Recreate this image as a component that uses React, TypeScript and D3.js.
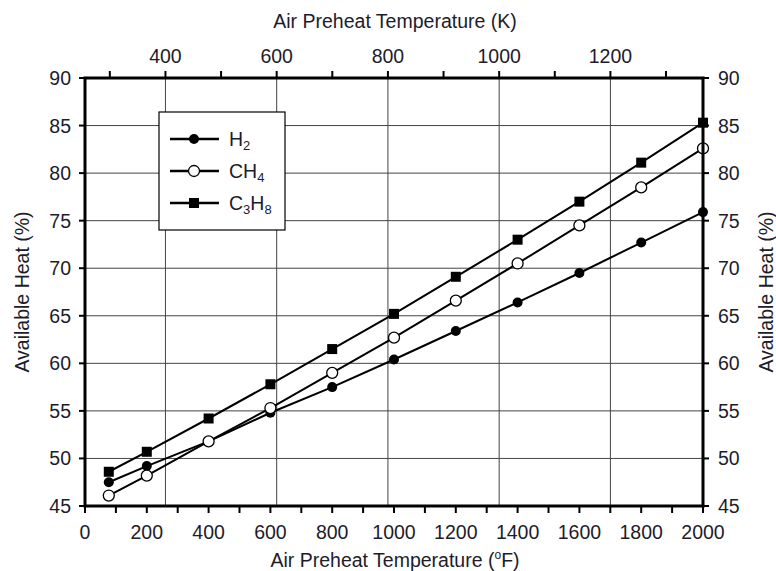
import React from "react";
import * as d3 from "d3";

const tempF = [77, 200, 400, 600, 800, 1000, 1200, 1400, 1600, 1800, 2000];
const h2 = [47.5, 49.2, 51.8, 54.8, 57.5, 60.4, 63.4, 66.4, 69.5, 72.7, 75.9];
const ch4 = [46.1, 48.2, 51.8, 55.3, 59.0, 62.7, 66.6, 70.5, 74.5, 78.5, 82.6];
const c3h8 = [48.6, 50.7, 54.2, 57.8, 61.5, 65.2, 69.1, 73.0, 77.0, 81.1, 85.3];
const bottomTicks = d3.range(0, 2001, 100);
const bottomLabels = d3.range(0, 2001, 200);
const topTicksK = d3.range(300, 1401, 100);
const topLabelsK = [400, 600, 800, 1000, 1200];
const yTicks = d3.range(45, 91, 5);

const W = 776, H = 571;
const L = 85, R = 703, T = 78, B = 506;

export default function App() {
  const x = d3.scaleLinear().domain([0, 2000]).range([L, R]);
  const y = d3.scaleLinear().domain([45, 90]).range([B, T]);
  const kToF = (k: number) => (k - 273.15) * 9 / 5 + 32;
  const line = d3.line<number>().x((_, i) => x(tempF[i])).y((d) => y(d));
  const ink = "#1c1c2a";
  const font = "'Liberation Sans', Arial, sans-serif";
  const fs = 19.5;

  const series = [
    { name: "H2", vals: h2, type: "fcircle" },
    { name: "CH4", vals: ch4, type: "ocircle" },
    { name: "C3H8", vals: c3h8, type: "square" },
  ];

  const marker = (type: string, cx: number, cy: number, key: any) => {
    if (type === "fcircle") return <circle key={key} cx={cx} cy={cy} r={5} fill="#000" />;
    if (type === "ocircle") return <circle key={key} cx={cx} cy={cy} r={5.5} fill="#fff" stroke="#000" strokeWidth={1.3} />;
    return <rect key={key} x={cx - 5} y={cy - 5} width={10} height={10} fill="#000" />;
  };

  const xLim = (v: number) => v >= 0 && v <= 2000;

  return (
    <svg width={W} height={H} style={{ position: "absolute", left: 0, top: 0, background: "#fff" }} fontFamily={font}>
      {yTicks.filter((t) => t !== 45 && t !== 90).map((t) => (
        <line key={"gy" + t} x1={L} x2={R} y1={y(t)} y2={y(t)} stroke="#444" strokeWidth={1} />
      ))}
      {topLabelsK.map((k) => (
        <line key={"gx" + k} x1={x(kToF(k))} x2={x(kToF(k))} y1={T} y2={B} stroke="#444" strokeWidth={1} />
      ))}
      {series.map((s) => (
        <path key={s.name} d={line(s.vals) || ""} fill="none" stroke="#000" strokeWidth={2} />
      ))}
      {series.map((s) => s.vals.map((v, i) => marker(s.type, x(tempF[i]), y(v), s.name + i)))}
      <rect x={159} y={112} width={126} height={118} fill="#fff" stroke="#000" strokeWidth={1.2} />
      {series.map((s, i) => {
        const ly = 139 + i * 32;
        return (
          <g key={"lg" + s.name}>
            <line x1={170} x2={219} y1={ly} y2={ly} stroke="#000" strokeWidth={2.5} />
            {marker(s.type, 194, ly, "lm" + i)}
          </g>
        );
      })}
      <text x={229} y={146} fontSize={fs} fill={ink}>H<tspan fontSize={13} dy={4}>2</tspan></text>
      <text x={229} y={178} fontSize={fs} fill={ink}>CH<tspan fontSize={13} dy={4}>4</tspan></text>
      <text x={229} y={210} fontSize={fs} fill={ink}>C<tspan fontSize={13} dy={4}>3</tspan><tspan dy={-4}>H</tspan><tspan fontSize={13} dy={4}>8</tspan></text>
      <rect x={L} y={T} width={R - L} height={B - T} fill="none" stroke="#000" strokeWidth={3} />
      {bottomTicks.map((t) => (
        <line key={"bt" + t} x1={x(t)} x2={x(t)} y1={B} y2={B + 7} stroke="#000" strokeWidth={2} />
      ))}
      {bottomLabels.map((t) => (
        <text key={"bl" + t} x={x(t)} y={539} fontSize={fs} textAnchor="middle" fill={ink}>{t}</text>
      ))}
      {topTicksK.filter((k) => xLim(kToF(k))).map((k) => (
        <line key={"tt" + k} x1={x(kToF(k))} x2={x(kToF(k))} y1={T} y2={T - 7} stroke="#000" strokeWidth={2} />
      ))}
      {topLabelsK.map((k) => (
        <text key={"tl" + k} x={x(kToF(k))} y={63} fontSize={fs} textAnchor="middle" fill={ink}>{k}</text>
      ))}
      {yTicks.map((t) => (
        <g key={"yt" + t}>
          <line x1={L - 6} x2={L} y1={y(t)} y2={y(t)} stroke="#000" strokeWidth={2} />
          <line x1={R} x2={R + 6} y1={y(t)} y2={y(t)} stroke="#000" strokeWidth={2} />
          <text x={71} y={y(t) + 7} fontSize={fs} textAnchor="end" fill={ink}>{t}</text>
          <text x={718} y={y(t) + 7} fontSize={fs} textAnchor="start" fill={ink}>{t}</text>
        </g>
      ))}
      <text x={395} y={567} fontSize={fs} textAnchor="middle" fill={ink}>Air Preheat Temperature (<tspan fontSize={12} dy={-8}>o</tspan><tspan dy={8}>F)</tspan></text>
      <text x={395} y={28} fontSize={fs} textAnchor="middle" fill={ink}>Air Preheat Temperature (K)</text>
      <text transform={`translate(29,${(T + B) / 2}) rotate(-90)`} fontSize={fs} textAnchor="middle" fill={ink}>Available Heat (%)</text>
      <text transform={`translate(773,${(T + B) / 2}) rotate(-90)`} fontSize={fs} textAnchor="middle" fill={ink}>Available Heat (%)</text>
    </svg>
  );
}
